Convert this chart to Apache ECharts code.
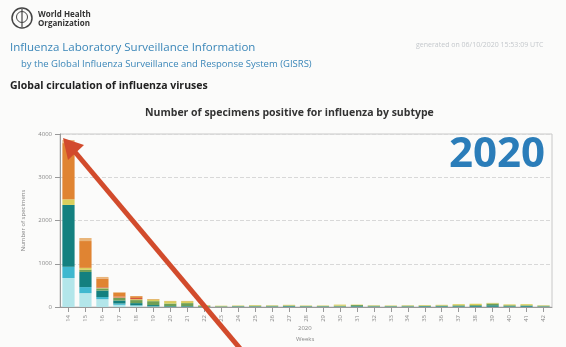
<!DOCTYPE html>
<html><head><meta charset="utf-8">
<script src="https://cdn.jsdelivr.net/npm/echarts@6/dist/echarts.min.js"></script>
<style>html,body{margin:0;padding:0;background:#fbfbfa;}#c{width:566px;height:347px;}</style>
</head><body><div id="c"></div>
<script>
const weeks = ['14','15','16','17','18','19','20','21','22','23','24','25','26','27','28','29','30','31','32','33','34','35','36','37','38','39','40','41','42'];
const yTicks = [0,1000,2000,3000,4000];
const sH1pdm = [670,320,180,50,30,10,5,5,0, 5,5,5,5,5,5,5,5,5,5,5,5,5,5,5,5,5,5,5,5];
const sH1    = [260,140,50,30,10,5,0,0,0, 0,0,0,0,0,0,0,0,0,0,0,0,0,0,0,0,0,0,0,0];
const sH3    = [1430,350,150,70,50,30,15,15,10, 5,10,10,10,15,10,10,10,15,10,10,10,15,15,15,20,35,15,20,10];
const sAns   = [0,50,50,60,70,90,60,70,20, 10,10,15,15,15,10,10,15,25,15,10,15,10,15,20,20,40,20,15,15];
const sBYam  = [130,45,15,10,20,40,55,45,16, 10,10,15,10,15,10,10,25,10,10,10,10,15,15,25,30,15,20,25,10];
const sBVic  = [0,0,15,20,30,0,0,0,0, 0,0,0,0,0,0,0,0,0,0,0,0,0,0,0,0,0,0,0,0];
const sBnd   = [1300,620,200,90,40,10,5,5,0, 0,0,0,0,0,0,0,0,0,0,0,0,0,0,0,0,0,0,0,0];
const sOther = [70,70,35,15,5,0,0,0,0, 0,0,0,0,0,0,0,0,0,0,0,0,0,0,0,0,0,0,0,0];

const seriesDefs = [
  ['A(H1N1)pdm09', sH1pdm, '#b3e6ea'],
  ['A(H1)', sH1, '#3fb8cf'],
  ['A(H3)', sH3, '#13807f'],
  ['A (not subtyped)', sAns, '#6f9f55'],
  ['B (Yamagata)', sBYam, '#d9cf5c'],
  ['B (Victoria)', sBVic, '#d6553e'],
  ['B (lineage not determined)', sBnd, '#e08432'],
  ['Other', sOther, '#e9b57a']
];

const chart = echarts.init(document.getElementById('c'));
const ff = 'Open Sans, DejaVu Sans, sans-serif';
chart.setOption({
  animation: false,
  backgroundColor: '#fbfbfa',
  title: [
    {text: 'World Health\nOrganization', left: 33, top: 5, textStyle: {fontSize: 8, fontWeight: 'bold', color: '#333', lineHeight: 9, fontFamily: ff}},
    {text: 'Influenza Laboratory Surveillance Information', left: 5, top: 37, textStyle: {fontSize: 11.5, fontWeight: 'normal', color: '#3a86b8', fontFamily: ff}},
    {text: 'by the Global Influenza Surveillance and Response System (GISRS)', left: 16, top: 54, textStyle: {fontSize: 9.5, fontWeight: 'normal', color: '#3a86b8', fontFamily: ff}},
    {text: 'generated on 06/10/2020 15:53:09 UTC', left: 411, top: 36, textStyle: {fontSize: 7, fontWeight: 'normal', color: '#c4c8cc', fontFamily: ff}},
    {text: 'Global circulation of influenza viruses', left: 5, top: 76, textStyle: {fontSize: 10.5, fontWeight: 'bold', color: '#222', fontFamily: ff}},
    {text: 'Number of specimens positive for influenza by subtype', left: 140, top: 103, textStyle: {fontSize: 10.5, fontWeight: 'bold', color: '#333', fontFamily: ff}},
    {text: '2020', left: 444, top: 129, textStyle: {fontSize: 42, fontWeight: 'bold', color: '#2b7db9', fontFamily: ff}},
    {text: '2020', left: 293, top: 320, textStyle: {fontSize: 6, fontWeight: 'normal', color: '#888', fontFamily: ff}},
    {text: 'Weeks', left: 291, top: 331, textStyle: {fontSize: 6, fontWeight: 'normal', color: '#888', fontFamily: ff}}
  ],
  grid: {left: 60, right: 14, top: 134, bottom: 40, show: true, borderColor: '#c8c8c8', borderWidth: 1, backgroundColor: 'transparent'},
  xAxis: {
    type: 'category', data: weeks,
    axisLine: {lineStyle: {color: '#999'}},
    axisTick: {show: true, alignWithLabel: true, lineStyle: {color: '#999'}},
    axisLabel: {interval: 0, rotate: 90, fontSize: 6, color: '#888', fontFamily: ff}
  },
  yAxis: {
    type: 'value', min: 0, max: 4000, interval: 1000,
    name: 'Number of specimens', nameLocation: 'middle', nameGap: 34, nameRotate: 90,
    nameTextStyle: {fontSize: 6, color: '#888', fontFamily: ff},
    axisLine: {show: true, lineStyle: {color: '#999'}},
    axisTick: {show: true, lineStyle: {color: '#999'}},
    axisLabel: {fontSize: 6, color: '#888', fontFamily: ff, formatter: v => yTicks.includes(v) ? String(v) : ''},
    splitLine: {lineStyle: {color: '#d8d8d8', type: 'dashed'}}
  },
  series: seriesDefs.map(([name, data, color]) => ({
    name, type: 'bar', stack: 'all', data, barWidth: '72%',
    itemStyle: {color}
  })),
  graphic: [
    {type: 'circle', shape: {cx: 22, cy: 18, r: 10}, style: {fill: 'none', stroke: '#444', lineWidth: 1.5}},
    {type: 'circle', shape: {cx: 22, cy: 17, r: 5.5}, style: {fill: 'none', stroke: '#444', lineWidth: 1}},
    {type: 'line', shape: {x1: 22, y1: 9, x2: 22, y2: 27}, style: {stroke: '#444', lineWidth: 1.2}},
    {type: 'line', shape: {x1: 243, y1: 352, x2: 75, y2: 152}, style: {stroke: '#d24b2c', lineWidth: 5}, z: 100},
    {type: 'polygon', shape: {points: [[63, 138], [84, 145], [68, 160]]}, style: {fill: '#d24b2c'}, z: 100}
  ]
});
</script></body></html>
